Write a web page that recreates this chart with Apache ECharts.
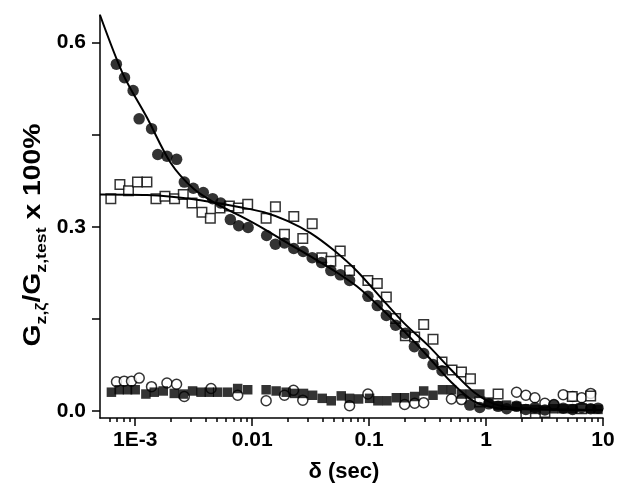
<!DOCTYPE html>
<html>
<head>
<meta charset="utf-8">
<script src="https://cdn.jsdelivr.net/npm/echarts@6/dist/echarts.min.js"></script>
<style>
html,body{margin:0;padding:0;background:#fff;}
#chart{width:624px;height:501px;}
</style>
</head>
<body>
<div id="chart"></div>
<script>
// ---- data ----
const filledCircleX = [6.9e-4, 8.1e-4, 9.6e-4, 1.08e-3, 1.38e-3, 1.56e-3, 1.87e-3, 2.26e-3, 2.63e-3, 3.14e-3, 3.82e-3, 4.59e-3, 5.38e-3, 6.51e-3, 7.67e-3, 9.23e-3, 0.0133, 0.0158, 0.0189, 0.0227, 0.0273, 0.0326, 0.0392, 0.0471, 0.0567, 0.0681, 0.0977, 0.1175, 0.1404, 0.1686, 0.2042, 0.2438, 0.293, 0.352, 0.420, 0.726, 0.884, 1.056, 1.268, 1.50, 1.823, 2.19, 2.616, 3.186, 3.805, 4.57, 5.50, 6.57, 7.85, 9.06];
const filledCircleY = [0.565, 0.543, 0.522, 0.476, 0.460, 0.418, 0.415, 0.410, 0.373, 0.363, 0.356, 0.346, 0.339, 0.312, 0.302, 0.299, 0.286, 0.272, 0.274, 0.265, 0.260, 0.250, 0.242, 0.229, 0.222, 0.213, 0.187, 0.172, 0.156, 0.140, 0.127, 0.105, 0.094, 0.076, 0.066, 0.010, 0.006, 0.012, 0.008, 0.004, 0.008, 0.003, 0.006, 0.002, 0.010, 0.005, 0.003, 0.006, 0.004, 0.005];

const openSquareX = [6.19e-4, 7.40e-4, 8.76e-4, 1.046e-3, 1.26e-3, 1.504e-3, 1.796e-3, 2.171e-3, 2.577e-3, 3.06e-3, 3.72e-3, 4.39e-3, 5.31e-3, 6.39e-3, 7.62e-3, 9.16e-3, 0.01317, 0.01581, 0.01889, 0.0227, 0.0271, 0.03262, 0.03942, 0.04709, 0.05665, 0.06806, 0.09766, 0.1175, 0.1404, 0.1686, 0.2042, 0.2453, 0.293, 0.352, 0.4203, 0.512, 0.6163, 0.7357, 0.884, 1.268, 2.19, 3.186, 5.458, 6.57, 7.846];
const openSquareY = [0.346, 0.369, 0.359, 0.373, 0.373, 0.346, 0.350, 0.346, 0.353, 0.339, 0.324, 0.314, 0.331, 0.334, 0.331, 0.337, 0.314, 0.333, 0.288, 0.317, 0.281, 0.305, 0.250, 0.244, 0.261, 0.229, 0.213, 0.208, 0.186, 0.151, 0.123, 0.121, 0.141, 0.117, 0.080, 0.067, 0.064, 0.053, 0.015, 0.028, -0.003, -0.002, 0.024, 0.004, 0.025];

const openCircleX = [6.92e-4, 8.05e-4, 9.30e-4, 1.082e-3, 1.379e-3, 1.868e-3, 2.258e-3, 2.628e-3, 4.45e-3, 7.52e-3, 0.01317, 0.01889, 0.02256, 0.0271, 0.06806, 0.09766, 0.2013, 0.2453, 0.293, 0.506, 0.6163, 1.823, 2.19, 2.616, 3.186, 3.805, 4.571, 5.502, 6.572, 7.846];
const openCircleY = [0.048, 0.049, 0.049, 0.054, 0.040, 0.046, 0.044, 0.024, 0.037, 0.026, 0.017, 0.026, 0.034, 0.018, 0.009, 0.028, 0.011, 0.013, 0.014, 0.020, 0.019, 0.031, 0.026, 0.022, 0.013, 0.011, 0.027, 0.024, 0.022, 0.029];

const filledSquareX = [6.26e-4, 7.29e-4, 8.59e-4, 1.0e-3, 1.234e-3, 1.455e-3, 1.737e-3, 2.158e-3, 2.577e-3, 3.096e-3, 3.654e-3, 4.302e-3, 5.07e-3, 6.17e-3, 7.52e-3, 9.16e-3, 0.01317, 0.01603, 0.01953, 0.02301, 0.02748, 0.03288, 0.03973, 0.04746, 0.05779, 0.06806, 0.08128, 0.101, 0.1189, 0.1421, 0.171, 0.2013, 0.2453, 0.293, 0.352, 0.4236, 0.506, 0.6163, 0.7357, 0.8841, 1.056, 1.268, 1.497, 1.823, 2.147, 2.616, 3.081, 3.752, 4.481, 5.395, 6.353, 7.738, 9.06];
const filledSquareY = [0.031, 0.035, 0.035, 0.035, 0.028, 0.031, 0.033, 0.029, 0.028, 0.033, 0.031, 0.031, 0.031, 0.031, 0.037, 0.035, 0.035, 0.033, 0.031, 0.029, 0.029, 0.026, 0.021, 0.017, 0.025, 0.021, 0.020, 0.021, 0.017, 0.017, 0.022, 0.022, 0.024, 0.033, 0.026, 0.035, 0.035, 0.028, 0.028, 0.028, 0.015, 0.009, 0.010, 0.008, 0.004, 0.003, 0.002, 0.004, 0.004, 0.004, 0.004, 0.004, 0.003];

// fitted curves (roughly every 0.2 decade)
const fit1X = [5.0e-4, 7.9e-4, 1.26e-3, 2.0e-3, 3.16e-3, 5.0e-3, 7.9e-3, 0.0126, 0.02, 0.0316, 0.05, 0.079, 0.126, 0.2, 0.316, 0.5, 0.79, 1.26, 2.5, 10];
const fit1Y = [0.645, 0.548, 0.478, 0.405, 0.362, 0.337, 0.318, 0.297, 0.274, 0.252, 0.229, 0.203, 0.168, 0.130, 0.090, 0.048, 0.016, 0.005, 0.003, 0.002];
const fit2X = [5.0e-4, 1.26e-3, 3.16e-3, 7.9e-3, 0.0126, 0.02, 0.0316, 0.05, 0.079, 0.126, 0.2, 0.316, 0.5, 0.79, 1.26, 2.5, 10];
const fit2Y = [0.353, 0.352, 0.345, 0.332, 0.324, 0.310, 0.290, 0.262, 0.228, 0.185, 0.143, 0.108, 0.068, 0.031, 0.010, 0.004, 0.002];

const xMajorTicks = [0.001, 0.01, 0.1, 1, 10];
const xTickLabels = ['1E-3', '0.01', '0.1', '1', '10'];
const xMinorTicks = [6e-4, 7e-4, 8e-4, 9e-4, 2e-3, 3e-3, 4e-3, 5e-3, 6e-3, 7e-3, 8e-3, 9e-3, 0.02, 0.03, 0.04, 0.05, 0.06, 0.07, 0.08, 0.09, 0.2, 0.3, 0.4, 0.5, 0.6, 0.7, 0.8, 0.9, 2, 3, 4, 5, 6, 7, 8, 9];
const yTicks = [0, 0.15, 0.3, 0.45, 0.6];
const yTickLabels = [0, 0.3, 0.6];

function pairs(xs, ys) { return xs.map((x, i) => [x, ys[i]]); }

const FONT = 'Liberation Sans, Arial, sans-serif';
const chart = echarts.init(document.getElementById('chart'), null, {renderer: 'canvas'});
const axisLineStyle = {color: '#000', width: 1.5};
const labelStyle = {color: '#000', fontSize: 21, fontWeight: 'bold', fontFamily: FONT};

chart.setOption({
  backgroundColor: '#fff',
  animation: false,
  grid: {left: 100, right: 21, top: 15, bottom: 83, containLabel: false},
  xAxis: [{
    type: 'log', logBase: 10, min: 5e-4, max: 10,
    axisLine: {show: true, onZero: false, lineStyle: axisLineStyle},
    axisTick: {show: true, inside: false, length: 8, lineStyle: axisLineStyle, customValues: xMajorTicks},
    axisLabel: Object.assign({customValues: xMajorTicks, margin: 12,
      formatter: v => xTickLabels[Math.round(Math.log10(v)) + 3]}, labelStyle),
    splitLine: {show: false}, minorTick: {show: false}
  }, {
    type: 'log', logBase: 10, min: 5e-4, max: 10, position: 'bottom',
    axisLine: {show: false, onZero: false},
    axisTick: {show: true, inside: false, length: 4, lineStyle: axisLineStyle, customValues: xMinorTicks},
    axisLabel: {show: false},
    splitLine: {show: false}
  }],
  yAxis: {
    type: 'value', min: -0.011, max: 0.645,
    axisLine: {show: true, onZero: false, lineStyle: axisLineStyle},
    axisTick: {show: true, inside: false, length: 8, lineStyle: axisLineStyle, customValues: yTicks},
    axisLabel: Object.assign({customValues: yTickLabels, margin: 14, formatter: v => v.toFixed(1)}, labelStyle),
    splitLine: {show: false}
  },
  graphic: [{
    type: 'text', x: 33, y: 235, rotation: Math.PI / 2, scaleX: 1.18,
    style: {
      text: '{m|G}{s|z,ζ}{m|/G}{s|z,test}{m| x 100%}',
      align: 'center', verticalAlign: 'middle',
      rich: {
        m: {fontSize: 24, fontWeight: 'bold', fontFamily: FONT, fill: '#000', lineHeight: 32},
        s: {fontSize: 15, fontWeight: 'bold', fontFamily: FONT, fill: '#000', lineHeight: 15, verticalAlign: 'bottom'}
      }
    }
  }, {
    type: 'text', x: 344, y: 472,
    style: {text: 'δ (sec)', align: 'center', verticalAlign: 'middle', font: 'bold 22px ' + FONT, fill: '#000'}
  }],
  series: [
    {type: 'scatter', name: 'open circles', data: pairs(openCircleX, openCircleY), symbol: 'circle', symbolSize: 10,
     itemStyle: {color: '#fff', borderColor: '#000', borderWidth: 1.5}, z: 2},
    {type: 'scatter', name: 'filled squares', data: pairs(filledSquareX, filledSquareY), symbol: 'rect', symbolSize: 9.5,
     itemStyle: {color: '#000'}, z: 3},
    {type: 'scatter', name: 'open squares', data: pairs(openSquareX, openSquareY), symbol: 'rect', symbolSize: 9.5,
     itemStyle: {color: '#fff', borderColor: '#000', borderWidth: 1.5}, z: 4},
    {type: 'scatter', name: 'filled circles', data: pairs(filledCircleX, filledCircleY), symbol: 'circle', symbolSize: 11.5,
     itemStyle: {color: '#000'}, z: 5},
    {type: 'line', name: 'fit 1', data: pairs(fit1X, fit1Y), showSymbol: false, smooth: 0.3,
     lineStyle: {color: '#000', width: 2}, z: 6},
    {type: 'line', name: 'fit 2', data: pairs(fit2X, fit2Y), showSymbol: false, smooth: 0.3,
     lineStyle: {color: '#000', width: 2}, z: 6}
  ]
});
</script>
</body>
</html>
